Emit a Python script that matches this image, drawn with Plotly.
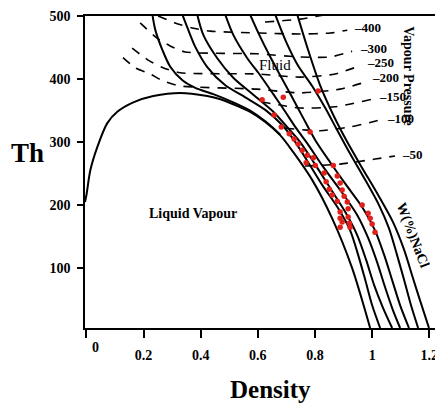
import plotly.graph_objects as go

# ---- data (density, Th) ----
dome_d = [-0.005, 0.0, 0.014, 0.038, 0.073, 0.108, 0.164, 0.234, 0.329, 0.423, 0.469, 0.514, 0.573, 0.626, 0.678, 0.724, 0.790, 0.860, 0.930, 0.993]
dome_t = [205, 216, 256, 292, 330, 348, 363, 373, 378, 373, 368, 360, 348, 332, 311, 284, 240, 179, 100, 5]

c1_d = [0.231, 0.241, 0.266, 0.294, 0.336, 0.381, 0.444, 0.514, 0.573, 0.626, 0.678]
c1_t = [502, 478, 446, 419, 398, 386, 376, 363, 350, 333, 312]
c2_d = [0.336, 0.353, 0.381, 0.423, 0.486, 0.556, 0.626, 0.685, 0.731, 0.776, 0.825, 0.881, 0.923, 0.951, 0.976, 1.0, 1.028]
c2_t = [502, 482, 451, 419, 390, 371, 351, 327, 300, 268, 232, 195, 160, 121, 81, 41, 5]
c3_d = [0.388, 0.409, 0.458, 0.514, 0.584, 0.654, 0.706, 0.748, 0.797, 0.853, 0.906, 0.948, 0.979, 1.007, 1.038, 1.070]
c3_t = [502, 470, 433, 402, 375, 348, 322, 300, 267, 227, 189, 152, 113, 73, 37, 5]
c4_d = [0.486, 0.514, 0.563, 0.608, 0.654, 0.696, 0.734, 0.773, 0.825, 0.888, 0.948, 0.986, 1.017, 1.045, 1.073, 1.098]
c4_t = [502, 470, 433, 406, 376, 348, 322, 298, 263, 224, 184, 148, 110, 70, 33, 5]
c5_d = [0.573, 0.605, 0.640, 0.678, 0.720, 0.759, 0.801, 0.853, 0.909, 0.965, 1.010, 1.042, 1.070, 1.098, 1.129]
c5_t = [502, 470, 438, 406, 371, 338, 303, 268, 232, 197, 160, 121, 81, 41, 5]
c6_d = [0.661, 0.699, 0.741, 0.790, 0.836, 0.874, 0.916, 0.972, 1.024, 1.059, 1.087, 1.112, 1.136, 1.161]
c6_t = [502, 459, 421, 389, 354, 322, 287, 243, 200, 163, 121, 81, 41, 5]
c7_d = [0.738, 0.776, 0.818, 0.864, 0.913, 0.965, 1.021, 1.073, 1.112, 1.143, 1.171, 1.199]
c7_t = [502, 446, 390, 343, 300, 259, 216, 173, 129, 84, 44, 5]

iso_top_d = [0.625, 0.748, 0.867]
iso_top_t = [490.5, 495, 504.7]
iso400_d = [0.251, 0.310, 0.370, 0.433, 0.607, 0.748, 0.853, 0.913]
iso400_t = [500, 489, 481, 476, 473, 471.5, 473, 477.5]
iso300_d = [0.188, 0.247, 0.293, 0.345, 0.597, 0.748, 0.853, 0.930]
iso300_t = [489, 465, 452.5, 443, 440, 435, 435, 444]
iso250_d = [0.160, 0.216, 0.268, 0.328, 0.597, 0.748, 0.870, 0.957]
iso250_t = [449, 430, 418, 410, 408, 403, 408, 421]
iso200_d = [0.128, 0.170, 0.223, 0.268, 0.328, 0.597, 0.748, 0.888, 0.975]
iso200_t = [434, 418, 408, 397, 389, 384, 378, 384, 395]
iso150_d = [0.612, 0.748, 0.870, 1.0]
iso150_t = [364, 354, 356, 368]
iso100_d = [0.695, 0.818, 0.923, 1.028]
iso100_t = [322, 318, 324, 335]
iso50_d = [0.765, 0.888, 1.010, 1.080]
iso50_t = [262, 265, 273, 278]

iso_labels = ["–400", "–300", "–250", "–200", "–150", "–100", "–50"]
iso_label_d = [0.930, 0.951, 0.975, 0.993, 1.017, 1.045, 1.098]
iso_label_t = [481, 449, 427, 402, 372, 338, 279.5]

fi_d = [0.615, 0.689, 0.811, 0.657, 0.682, 0.710, 0.727, 0.783, 0.741, 0.755, 0.773, 0.794, 0.769, 0.801,
        0.864, 0.832, 0.878, 0.839, 0.888, 0.850, 0.895, 0.860, 0.902, 0.878, 0.913, 0.965, 0.888, 0.916,
        0.986, 0.888, 0.916, 0.993, 0.895, 0.920, 1.0, 0.888, 0.923, 1.010]
fi_t = [367, 371, 381, 343, 324, 313, 305, 316, 297, 287, 279, 275, 267, 263,
        263, 251, 246, 237, 235, 225, 224, 216, 214, 206, 205, 200, 189, 194,
        187, 179, 181, 179, 173, 171, 170, 165, 165, 157]

x_ticks = [0.2, 0.4, 0.6, 0.8, 1.0, 1.2]
x_ticktext = ["0.2", "0.4", "0.6", "0.8", "1", "1.2"]
y_ticks = [100, 200, 300, 400, 500]

SERIF = "Liberation Serif"

fig = go.Figure()

solid = [(dome_d, dome_t), (c1_d, c1_t), (c2_d, c2_t), (c3_d, c3_t), (c4_d, c4_t),
         (c5_d, c5_t), (c6_d, c6_t), (c7_d, c7_t)]
for xs, ys in solid:
    fig.add_trace(go.Scatter(x=xs, y=ys, mode="lines", line=dict(color="black", width=2, shape="spline", smoothing=0.8),
                             showlegend=False, hoverinfo="skip"))

dashed = [(iso_top_d, iso_top_t), (iso400_d, iso400_t), (iso300_d, iso300_t), (iso250_d, iso250_t),
          (iso200_d, iso200_t), (iso150_d, iso150_t), (iso100_d, iso100_t), (iso50_d, iso50_t)]
for xs, ys in dashed:
    fig.add_trace(go.Scatter(x=xs, y=ys, mode="lines", line=dict(color="black", width=1.6, dash="9px,8px", shape="spline", smoothing=0.6),
                             showlegend=False, hoverinfo="skip"))

fig.add_trace(go.Scatter(x=fi_d, y=fi_t, mode="markers", marker=dict(color="#e3211c", size=5.5, symbol="circle"),
                         showlegend=False, hoverinfo="skip"))

for lab, xd, yt in zip(iso_labels, iso_label_d, iso_label_t):
    fig.add_annotation(x=xd, y=yt, text=lab, showarrow=False, xanchor="left", yanchor="middle",
                       font=dict(family=SERIF, size=13, color="black", weight="bold"))

fig.add_annotation(x=-0.163, y=0.561, xref="paper", yref="paper", text="Th", showarrow=False,
                   xanchor="center", yanchor="middle",
                   font=dict(family=SERIF, size=27, color="black", weight="bold"))
fig.add_annotation(x=0.531, y=-0.197, xref="paper", yref="paper", text="Density", showarrow=False,
                   xanchor="center", yanchor="middle",
                   font=dict(family=SERIF, size=25, color="black", weight="bold"))
fig.add_annotation(x=0.030, y=-0.064, xref="paper", yref="paper", text="0", showarrow=False,
                   xanchor="center", yanchor="middle",
                   font=dict(family=SERIF, size=14, color="black", weight="bold"))
fig.add_annotation(x=1.129, y=406, text="Vapour Pressure", textangle=90, showarrow=False,
                   xanchor="center", yanchor="middle",
                   font=dict(family=SERIF, size=14, color="black", weight="bold"))
fig.add_annotation(x=1.140, y=152, text="W(%)NaCl", textangle=69, showarrow=False,
                   xanchor="center", yanchor="middle",
                   font=dict(family=SERIF, size=14, color="black", weight="bold"))
fig.add_annotation(x=0.660, y=422, text="Fluid", showarrow=False, xanchor="center", yanchor="middle",
                   font=dict(family=SERIF, size=15, color="black"))
fig.add_annotation(x=0.373, y=187, text="Liquid Vapour", showarrow=False, xanchor="center", yanchor="middle",
                   font=dict(family=SERIF, size=14, color="black", weight="bold"))

fig.update_xaxes(range=[-0.005, 1.22], showgrid=False, zeroline=False, showline=True, linecolor="black", linewidth=1.5,
                 mirror=True, ticks="outside", ticklen=8, tickwidth=1.5, tickcolor="black",
                 tickvals=[0.0] + x_ticks, ticktext=[""] + x_ticktext, ticklabelstandoff=5,
                 ticklabeloverflow="allow",
                 tickfont=dict(family=SERIF, size=14, color="black", weight="bold"), automargin=False)
fig.update_yaxes(range=[5, 500], showgrid=False, zeroline=False, showline=True, linecolor="black", linewidth=1.5,
                 ticks="outside", ticklen=6, tickwidth=1.5, tickcolor="black", tickvals=y_ticks,
                 ticklabelstandoff=4, ticklabeloverflow="allow",
                 tickfont=dict(family=SERIF, size=14, color="black", weight="bold"), automargin=False)

fig.update_layout(width=435, height=405, margin=dict(l=85, r=0, t=16, b=77),
                  paper_bgcolor="white", plot_bgcolor="white", showlegend=False)

fig.write_html("out.html", config={"displayModeBar": False},
               post_script="document.body.style.margin='0px';document.body.style.overflow='hidden';")
